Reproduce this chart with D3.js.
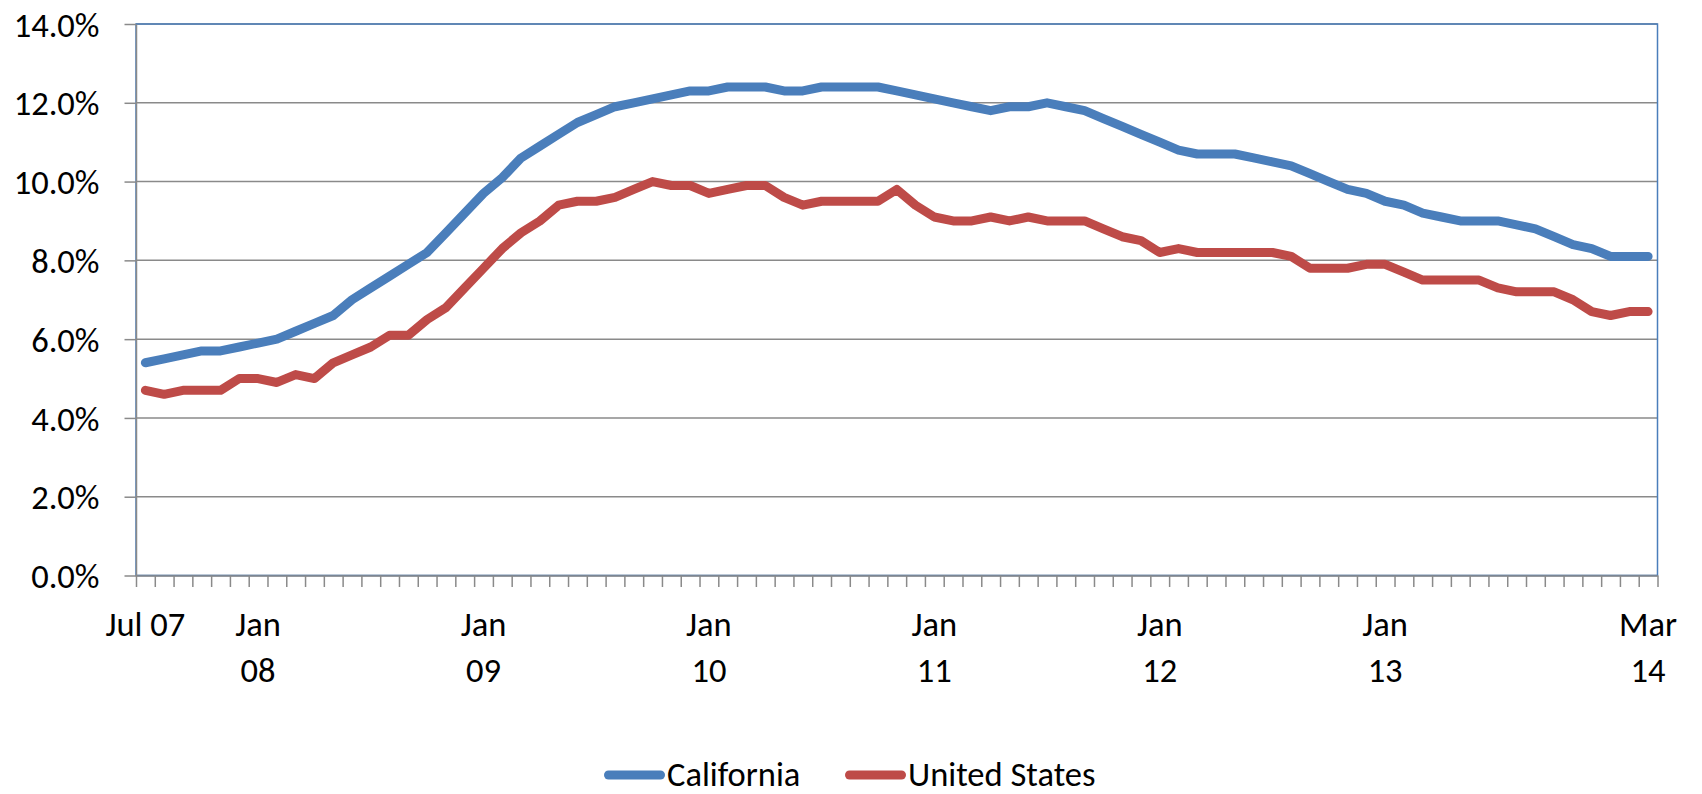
<!DOCTYPE html>
<html>
  <head>
    <title>California vs United States unemployment</title>
    <script src="https://cdnjs.cloudflare.com/ajax/libs/d3/7.8.5/d3.min.js"></script>
    <style>
      body { margin: 0; background: #fff; }
      svg { display: block; }
      text { font-family: Carlito, Calibri, Lato, sans-serif; font-size: 34.5px; fill: #000; }
    </style>
  </head>
  <body>
    <div id="main"></div>
    <script>
      var WIDTH = 1702, HEIGHT = 794;
      var LEFT = 136, RIGHT = 1657.5, TOP = 24, BOTTOM = 575.5;

      // monthly, Jul 2007 .. Mar 2014 (percent)
      var months = d3.timeMonth.range(new Date(2007, 6, 1), new Date(2014, 3, 1));

      var california = [
        5.4, 5.5, 5.6, 5.7, 5.7, 5.8,
        5.9, 6.0, 6.2, 6.4, 6.6, 7.0, 7.3, 7.6, 7.9, 8.2, 8.7, 9.2,
        9.7, 10.1, 10.6, 10.9, 11.2, 11.5, 11.7, 11.9, 12.0, 12.1, 12.2, 12.3,
        12.3, 12.4, 12.4, 12.4, 12.3, 12.3, 12.4, 12.4, 12.4, 12.4, 12.3, 12.2,
        12.1, 12.0, 11.9, 11.8, 11.9, 11.9, 12.0, 11.9, 11.8, 11.6, 11.4, 11.2,
        11.0, 10.8, 10.7, 10.7, 10.7, 10.6, 10.5, 10.4, 10.2, 10.0, 9.8, 9.7,
        9.5, 9.4, 9.2, 9.1, 9.0, 9.0, 9.0, 8.9, 8.8, 8.6, 8.4, 8.3,
        8.1, 8.1, 8.1
      ];

      var unitedStates = [
        4.7, 4.6, 4.7, 4.7, 4.7, 5.0,
        5.0, 4.9, 5.1, 5.0, 5.4, 5.6, 5.8, 6.1, 6.1, 6.5, 6.8, 7.3,
        7.8, 8.3, 8.7, 9.0, 9.4, 9.5, 9.5, 9.6, 9.8, 10.0, 9.9, 9.9,
        9.7, 9.8, 9.9, 9.9, 9.6, 9.4, 9.5, 9.5, 9.5, 9.5, 9.8, 9.4,
        9.1, 9.0, 9.0, 9.1, 9.0, 9.1, 9.0, 9.0, 9.0, 8.8, 8.6, 8.5,
        8.2, 8.3, 8.2, 8.2, 8.2, 8.2, 8.2, 8.1, 7.8, 7.8, 7.8, 7.9,
        7.9, 7.7, 7.5, 7.5, 7.5, 7.5, 7.3, 7.2, 7.2, 7.2, 7.0, 6.7,
        6.6, 6.7, 6.7
      ];

      var xTickLabels = [
        {month: '2007-07', text: ['Jul 07']},
        {month: '2008-01', text: ['Jan', '08']},
        {month: '2009-01', text: ['Jan', '09']},
        {month: '2010-01', text: ['Jan', '10']},
        {month: '2011-01', text: ['Jan', '11']},
        {month: '2012-01', text: ['Jan', '12']},
        {month: '2013-01', text: ['Jan', '13']},
        {month: '2014-03', text: ['Mar', '14']}
      ];

      var yTicks = [0, 2, 4, 6, 8, 10, 12, 14];

      var seriesNames = ['California', 'United States'];
      var seriesColors = ['#4a7ebb', '#be4b48'];

      var key = d3.timeFormat('%Y-%m');

      var svg = d3.select('#main').append('svg')
                  .attr('width', WIDTH).attr('height', HEIGHT);

      var x = d3.scaleBand().domain(months.map(key)).range([LEFT, RIGHT]);
      var xEdge = d3.scaleLinear().domain([0, months.length]).range([LEFT, RIGHT]);
      var y = d3.scaleLinear().domain([0, 14]).range([BOTTOM, TOP]);

      function cx(m) { return x(key(m)) + x.bandwidth() / 2; }

      // gridlines
      svg.append('g').selectAll('line').data(yTicks).enter()
        .append('line')
          .attr('x1', LEFT).attr('x2', RIGHT)
          .attr('y1', function(d) { return y(d); })
          .attr('y2', function(d) { return y(d); })
          .attr('stroke', '#8a8a8a').attr('stroke-width', 1.5);

      // plot area border (blue), axes drawn over it on left / bottom
      svg.append('rect')
        .attr('x', LEFT).attr('y', TOP)
        .attr('width', RIGHT - LEFT).attr('height', BOTTOM - TOP)
        .attr('fill', 'none').attr('stroke', '#4a7ebb').attr('stroke-width', 1.5);

      var yAxis = svg.append('g')
        .attr('transform', 'translate(' + LEFT + ',0)')
        .call(d3.axisLeft(y).tickValues(yTicks)
                .tickFormat(function(d) { return d.toFixed(1) + '%'; })
                .tickSize(11.5).tickSizeOuter(0).tickPadding(25));
      yAxis.selectAll('line, path').attr('stroke', '#8a8a8a').attr('stroke-width', 1.5);
      yAxis.selectAll('text').attr('font-family', null).attr('font-size', null).attr('dy', '0.35em');

      var xAxis = svg.append('g')
        .attr('transform', 'translate(0,' + BOTTOM + ')')
        .call(d3.axisBottom(xEdge).tickValues(d3.range(months.length + 1))
                .tickFormat('').tickSize(11.5).tickSizeOuter(0));
      xAxis.selectAll('line, path').attr('stroke', '#8a8a8a').attr('stroke-width', 1.5);

      // month labels
      var labels = svg.append('g').selectAll('text').data(xTickLabels).enter()
        .append('text')
          .attr('text-anchor', 'middle')
          .attr('x', function(d) { return x(d.month) + x.bandwidth() / 2; })
          .attr('y', 636);
      labels.selectAll('tspan').data(function(d) { return d.text; }).enter()
        .append('tspan')
          .attr('x', function() { return d3.select(this.parentNode).attr('x'); })
          .attr('dy', function(t, i) { return i === 0 ? 0 : 45.5; })
          .text(function(t) { return t; });

      // lines
      var line = d3.line()
        .x(function(d, i) { return cx(months[i]); })
        .y(function(d) { return y(d); });

      [california, unitedStates].forEach(function(values, s) {
        svg.append('path')
          .datum(values)
          .attr('d', line)
          .attr('fill', 'none')
          .attr('stroke', seriesColors[s])
          .attr('stroke-width', 9)
          .attr('stroke-linecap', 'round')
          .attr('stroke-linejoin', 'round');
      });

      // legend
      var legendX = [604, 845];
      var legend = svg.append('g').selectAll('g').data(seriesNames).enter()
        .append('g')
          .attr('transform', function(d, i) { return 'translate(' + legendX[i] + ',775)'; });
      legend.append('line')
        .attr('x1', 4.5).attr('x2', 56.5)
        .attr('stroke', function(d, i) { return seriesColors[i]; })
        .attr('stroke-width', 9).attr('stroke-linecap', 'round');
      legend.append('text')
        .attr('x', 63).attr('y', 11)
        .text(function(d) { return d; });
    </script>
  </body>
</html>
